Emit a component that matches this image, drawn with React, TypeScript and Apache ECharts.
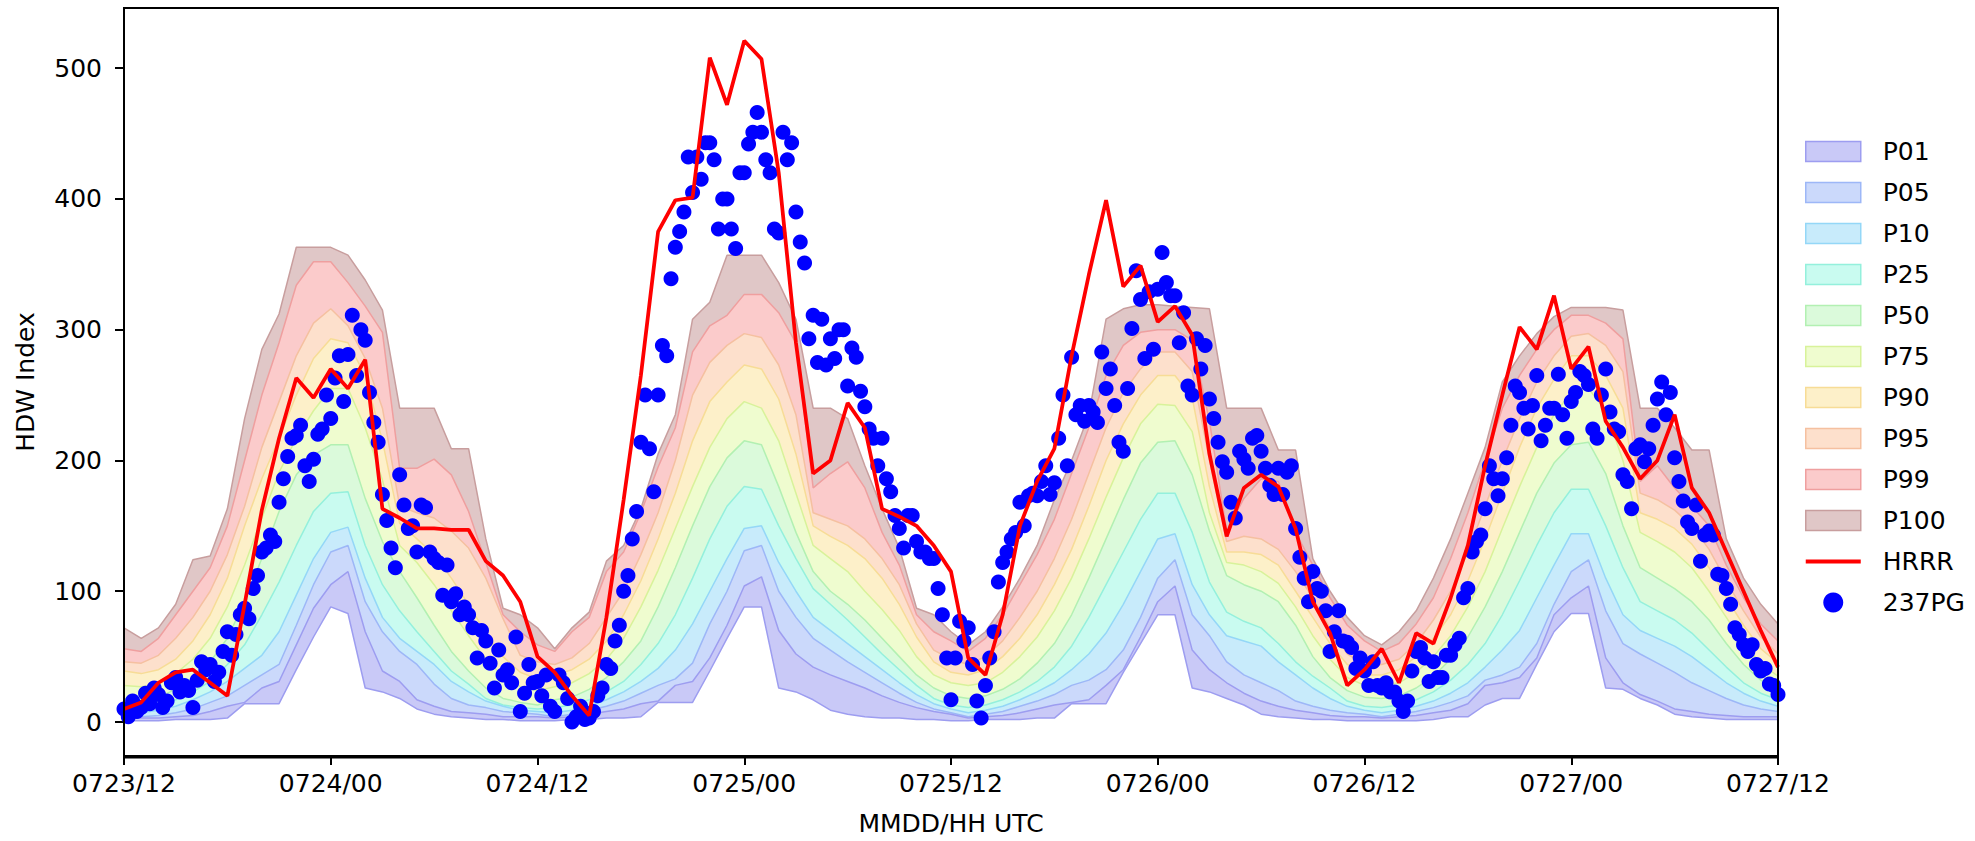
import React, { useEffect, useRef } from 'react';
import * as echarts from 'echarts';

// ---- tick labels / categories ----
const xTickLabels = ['0723/12', '0724/00', '0724/12', '0725/00', '0725/12', '0726/00', '0726/12', '0727/00', '0727/12'];
const yTickValues = [0, 100, 200, 300, 400, 500];
const percentileNames = ['P01', 'P05', 'P10', 'P25', 'P50', 'P75', 'P90', 'P95', 'P99', 'P100'];

// ---- hourly climatology boundaries (hour 0 = 0723/12 UTC) ----
const P00 = [
  1, 1, 1, 2, 2, 2, 3, 14, 14, 14, 40, 65, 88, 83, 26, 23, 18, 10, 6, 4, 3, 2, 2, 1, 1,
  1, 2, 2, 3, 3, 4, 15, 15, 15, 39, 64, 88, 88, 26, 23, 17, 9, 6, 4, 3, 3, 2, 2, 1,
  1, 2, 2, 2, 3, 3, 14, 14, 14, 38, 60, 82, 82, 26, 23, 18, 13, 6, 4, 3, 2, 2, 1, 1,
  1, 1, 1, 2, 4, 4, 13, 18, 18, 44, 69, 83, 83, 26, 25, 18, 13, 6, 4, 3, 2, 2, 2, 2,
];
const P01 = [
  3, 3, 3, 4, 5, 8, 12, 15, 26, 31, 59, 87, 105, 115, 69, 39, 31, 17, 12, 8, 7, 6, 4, 4, 4,
  3, 4, 6, 8, 10, 14, 16, 28, 31, 49, 74, 104, 111, 70, 52, 42, 36, 31, 26, 20, 15, 11, 8, 6,
  3, 4, 5, 7, 10, 13, 15, 17, 28, 40, 65, 92, 104, 55, 40, 30, 22, 16, 12, 9, 7, 5, 4, 4,
  3, 4, 5, 7, 9, 14, 28, 30, 34, 49, 82, 95, 104, 49, 30, 21, 16, 10, 8, 6, 5, 4, 4, 4,
];
const P05 = [
  4, 4, 5, 7, 10, 15, 20, 28, 36, 44, 74, 105, 130, 135, 92, 69, 54, 44, 29, 18, 13, 11, 8, 7, 6,
  4, 6, 9, 12, 16, 22, 28, 33, 45, 75, 100, 131, 135, 100, 80, 64, 55, 46, 38, 30, 22, 15, 10, 7,
  4, 6, 8, 12, 16, 21, 28, 32, 40, 55, 80, 110, 124, 82, 66, 46, 36, 30, 24, 16, 12, 9, 7, 6,
  4, 6, 8, 11, 15, 20, 32, 36, 42, 60, 90, 115, 124, 85, 60, 52, 45, 38, 30, 24, 18, 13, 10, 8,
];
const P10 = [
  7, 7, 9, 12, 17, 23, 31, 41, 51, 69, 97, 125, 145, 149, 110, 80, 64, 54, 44, 31, 23, 16, 12, 9, 8,
  7, 9, 12, 17, 23, 31, 41, 55, 75, 100, 125, 148, 150, 122, 100, 80, 70, 60, 50, 40, 30, 21, 14, 10,
  7, 9, 12, 17, 23, 30, 40, 52, 68, 90, 115, 140, 144, 105, 82, 66, 62, 58, 46, 36, 26, 18, 12, 9,
  7, 9, 12, 16, 22, 30, 42, 55, 70, 95, 120, 144, 144, 110, 82, 70, 64, 58, 50, 40, 30, 22, 16, 12,
];
const P25 = [
  12, 11, 13, 17, 23, 31, 44, 59, 82, 107, 135, 161, 175, 176, 135, 105, 85, 69, 54, 39, 29, 18, 13, 11, 10,
  11, 13, 17, 23, 31, 44, 60, 82, 110, 140, 165, 180, 178, 150, 125, 102, 90, 78, 65, 52, 40, 28, 18, 13,
  11, 13, 17, 23, 31, 42, 58, 80, 105, 130, 155, 175, 175, 145, 107, 84, 77, 72, 60, 46, 35, 26, 16, 12,
  11, 13, 17, 23, 32, 44, 60, 82, 108, 135, 160, 178, 178, 150, 118, 92, 85, 78, 68, 55, 42, 30, 22, 17,
];
const P50 = [
  18, 17, 19, 25, 34, 46, 64, 92, 125, 161, 189, 204, 212, 212, 171, 138, 115, 95, 74, 54, 39, 26, 18, 15, 13,
  17, 19, 25, 34, 46, 62, 88, 118, 150, 180, 202, 215, 212, 180, 145, 115, 100, 90, 78, 64, 50, 36, 26, 20,
  18, 20, 25, 33, 45, 60, 82, 110, 140, 170, 198, 214, 215, 189, 146, 112, 105, 100, 92, 74, 50, 34, 24, 19,
  18, 20, 26, 35, 48, 65, 88, 115, 145, 175, 198, 212, 214, 190, 150, 118, 110, 102, 92, 78, 60, 44, 32, 25,
];
const P75 = [
  28, 27, 29, 37, 48, 64, 88, 120, 156, 191, 217, 238, 255, 255, 225, 185, 135, 122, 105, 85, 66, 48, 35, 27, 24,
  27, 30, 37, 48, 64, 88, 116, 148, 180, 210, 232, 245, 240, 215, 175, 135, 125, 115, 100, 86, 70, 50, 36, 30,
  28, 30, 38, 50, 65, 85, 110, 140, 172, 202, 228, 243, 242, 222, 160, 122, 120, 115, 106, 88, 66, 48, 34, 28,
  28, 30, 38, 50, 66, 88, 115, 148, 180, 210, 235, 252, 255, 238, 200, 145, 138, 130, 118, 100, 80, 60, 45, 35,
];
const P90 = [
  39, 37, 40, 48, 62, 82, 110, 150, 186, 217, 250, 278, 293, 290, 265, 215, 152, 140, 128, 110, 90, 68, 50, 38, 33,
  36, 40, 48, 62, 82, 108, 140, 175, 215, 245, 260, 273, 270, 247, 205, 150, 142, 135, 125, 110, 90, 65, 46, 38,
  36, 40, 50, 64, 82, 105, 132, 165, 200, 228, 250, 265, 265, 248, 180, 130, 130, 128, 120, 100, 80, 60, 44, 36,
  36, 40, 50, 64, 82, 108, 140, 175, 210, 240, 262, 280, 280, 265, 240, 160, 155, 148, 136, 118, 95, 74, 56, 45,
];
const P95 = [
  46, 45, 51, 64, 80, 100, 128, 165, 210, 245, 280, 305, 316, 303, 278, 240, 165, 160, 156, 146, 133, 110, 79, 51, 46,
  44, 49, 60, 80, 100, 128, 160, 200, 250, 275, 288, 297, 294, 273, 235, 160, 155, 150, 140, 125, 105, 75, 55, 48,
  44, 50, 62, 80, 100, 125, 155, 190, 225, 252, 270, 283, 283, 268, 200, 138, 142, 140, 132, 115, 95, 72, 52, 44,
  44, 48, 60, 78, 100, 130, 165, 200, 232, 260, 280, 295, 297, 288, 268, 175, 170, 162, 150, 132, 108, 85, 65, 52,
];
const P99 = [
  56, 54, 64, 82, 100, 118, 150, 200, 250, 290, 334, 352, 352, 336, 318, 298, 194, 194, 201, 189, 161, 122, 82, 69, 59,
  54, 69, 80, 115, 130, 160, 195, 225, 283, 303, 311, 327, 327, 313, 290, 179, 190, 199, 179, 145, 120, 82, 69, 62,
  54, 64, 82, 105, 128, 155, 190, 225, 265, 288, 298, 300, 300, 292, 230, 146, 171, 186, 184, 145, 120, 95, 74, 62,
  54, 60, 75, 95, 125, 160, 200, 240, 265, 285, 300, 311, 311, 305, 293, 184, 196, 179, 165, 150, 120, 95, 75, 62,
];
const P100 = [
  72, 64, 72, 90, 124, 127, 163, 232, 285, 312, 363, 363, 363, 357, 338, 315, 240, 240, 240, 209, 209, 140, 87, 82, 72,
  56, 72, 84, 123, 135, 163, 205, 235, 308, 321, 357, 357, 357, 336, 308, 240, 240, 232, 196, 163, 133, 87, 82, 69,
  59, 69, 88, 110, 135, 170, 200, 235, 308, 316, 319, 319, 318, 317, 316, 240, 240, 240, 208, 208, 125, 100, 80, 66,
  59, 69, 85, 110, 140, 175, 210, 260, 280, 297, 310, 317, 317, 317, 315, 240, 240, 225, 208, 208, 140, 110, 90, 75,
];

// ---- HRRR forecast, hourly ----
const HRRR = [
  10, 15, 30, 38, 40, 30, 20, 90, 162, 217, 263, 248, 270, 255, 277, 163, 156, 148, 148, 147, 147, 123, 112, 92, 50,
  38, 20, 5, 80, 170, 265, 375, 399, 401, 508, 472, 521, 507, 420, 290, 190, 200, 244, 225, 163, 157, 150, 135, 115,
  49, 36, 82, 150, 184, 209, 280, 342, 399, 333, 349, 306, 318, 296, 205, 142, 179, 189, 180, 148, 92, 68, 28, 40,
  56, 30, 68, 60, 95, 135, 196, 250, 302, 285, 326, 270, 287, 230, 210, 186, 200, 235, 179, 160, 130, 100, 70, 42,
];

// ---- 237PG observations, every 15 minutes ----
const OBS_237PG = [
  10, 4, 16, 8, 11, 22, 14, 26, 21, 11, 16, 30, 34, 23, 28, 24, 11, 32, 46, 40, 44, 31, 38, 54,
  69, 51, 67, 82, 87, 79, 102, 112, 130, 133, 143, 138, 168, 186, 203, 217, 219, 227, 196, 184, 201, 220, 224, 250,
  232, 263, 280, 245, 281, 311, 265, 300, 292, 252, 229, 214, 174, 154, 133, 118, 189, 166, 148, 150, 130, 166, 164, 130,
  125, 122, 97, 120, 92, 98, 82, 88, 82, 72, 49, 70, 62, 45, 26, 55, 36, 40, 30, 65, 8, 22, 44, 30,
  31, 20, 36, 12, 8, 36, 30, 18, 0, 4, 12, 2, 3, 8, 20, 26, 44, 41, 62, 74, 100, 112, 140, 161,
  214, 250, 209, 176, 250, 288, 280, 339, 363, 375, 390, 432, 405, 432, 415, 443, 443, 430, 377, 400, 400, 377, 362, 420,
  420, 442, 451, 466, 451, 430, 420, 377, 374, 451, 430, 443, 390, 367, 351, 293, 311, 275, 308, 273, 293, 278, 300, 300,
  257, 286, 279, 253, 241, 224, 217, 196, 217, 186, 176, 158, 148, 133, 158, 158, 138, 130, 130, 125, 125, 102, 82, 49,
  17, 49, 77, 62, 72, 44, 16, 3, 28, 49, 69, 107, 122, 130, 140, 145, 168, 150, 173, 175, 173, 184, 196, 174,
  183, 217, 250, 196, 279, 235, 242, 230, 242, 237, 229, 283, 255, 270, 242, 214, 207, 255, 301, 345, 323, 278, 329, 285,
  331, 359, 336, 326, 326, 290, 313, 257, 250, 293, 270, 288, 247, 232, 214, 199, 191, 168, 156, 207, 201, 194, 217, 219,
  207, 194, 181, 174, 194, 174, 191, 196, 148, 126, 110, 92, 115, 102, 100, 85, 54, 69, 85, 62, 61, 57, 41, 49,
  39, 28, 46, 28, 26, 30, 23, 23, 16, 8, 16, 39, 54, 57, 49, 31, 46, 34, 34, 51, 51, 59, 64, 95,
  102, 130, 138, 143, 163, 196, 186, 173, 186, 202, 227, 257, 252, 240, 224, 242, 265, 215, 227, 240, 240, 266, 235, 217,
  245, 252, 268, 265, 258, 224, 217, 250, 270, 237, 224, 222, 189, 184, 163, 209, 212, 199, 209, 227, 247, 260, 235, 252,
  202, 184, 169, 153, 148, 166, 123, 143, 146, 143, 113, 112, 102, 90, 72, 67, 59, 54, 59, 44, 39, 41, 29, 28,
  21,
];

// ---- styles ----
const bandFills = ['#c9c9f7', '#cbd9fb', '#c8ebfb', '#c9fbf0', '#dbfadb', '#effccf', '#fdf0c9', '#fde0cc', '#fbcbcb', '#e0c7c7'];
const bandEdges = ['#9d9df0', '#9db7f7', '#94d7f7', '#94f0dc', '#b2f0b2', '#d8f29a', '#f7dc96', '#f5c0a0', '#ef9f9f', '#c89e9e'];
const FONT = 'DejaVu Sans';

export default function App() {
  const ref = useRef<HTMLDivElement>(null);

  useEffect(() => {
    const chart = echarts.init(ref.current as HTMLDivElement, null, { renderer: 'svg' });
    const bounds = [P01, P05, P10, P25, P50, P75, P90, P95, P99, P100];
    const pairs = (arr: number[]) => arr.map((v, i) => [i, v]);

    const series: any[] = [];
    for (let k = bounds.length - 1; k >= 0; k--) {
      series.push({
        name: percentileNames[k],
        type: 'line',
        data: pairs(bounds[k]),
        symbol: 'none',
        showSymbol: false,
        silent: true,
        lineStyle: { color: bandEdges[k], width: 1.5 },
        itemStyle: { color: bandFills[k] },
        areaStyle: { color: bandFills[k], opacity: 1 },
        emphasis: { disabled: true },
        z: 2,
      });
    }
    series.push({
      name: 'P00',
      type: 'line',
      data: pairs(P00),
      symbol: 'none',
      showSymbol: false,
      silent: true,
      lineStyle: { color: bandEdges[0], width: 1.5 },
      areaStyle: { color: '#ffffff', opacity: 1 },
      emphasis: { disabled: true },
      z: 2,
    });
    series.push({
      name: '237PG',
      type: 'scatter',
      data: OBS_237PG.map((v, i) => [i / 4, v]),
      symbol: 'circle',
      symbolSize: 15,
      itemStyle: { color: '#0000ff', opacity: 1 },
      emphasis: { disabled: true },
      silent: true,
      z: 3,
    });
    series.push({
      name: 'HRRR',
      type: 'line',
      data: pairs(HRRR),
      symbol: 'none',
      showSymbol: false,
      silent: true,
      lineStyle: { color: '#ff0000', width: 3.75 },
      itemStyle: { color: '#ff0000' },
      emphasis: { disabled: true },
      z: 4,
    });

    const legendData: any[] = percentileNames.map((n, k) => ({
      name: n,
      icon: 'rect',
      itemStyle: { color: bandFills[k], borderColor: bandEdges[k], borderWidth: 1.5 },
    }));
    legendData.push({
      name: 'HRRR',
      icon: 'path://M0,0H55V0.05H0Z M0,8H55V12H0Z M0,19.95H55V20H0Z',
      itemStyle: { color: '#ff0000', borderWidth: 0 },
    });
    legendData.push({ name: '237PG', icon: 'circle', itemStyle: { color: '#0000ff', borderWidth: 0 } });

    const option: any = {
      animation: false,
      backgroundColor: '#ffffff',
      textStyle: { fontFamily: FONT },
      grid: { left: 124, right: 197, top: 8, bottom: 83.5, show: false },
      legend: {
        orient: 'vertical',
        left: 1805,
        top: 139,
        padding: 0,
        itemWidth: 55,
        itemHeight: 20,
        itemGap: 16,
        selectedMode: false,
        textStyle: { fontSize: 25, fontFamily: FONT, color: '#000', lineHeight: 25, padding: [0, 0, 0, 17] },
        data: legendData,
      },
      xAxis: {
        type: 'value',
        min: 0,
        max: 96,
        interval: 12,
        name: 'MMDD/HH UTC',
        nameLocation: 'middle',
        nameGap: 55,
        nameTextStyle: { fontSize: 25, fontFamily: FONT, color: '#000' },
        axisLine: { show: true, onZero: false, lineStyle: { color: '#000', width: 2 } },
        axisTick: { show: true, length: 9, lineStyle: { color: '#000', width: 2 } },
        axisLabel: {
          fontSize: 25,
          fontFamily: FONT,
          color: '#000',
          margin: 15,
          formatter: (v: number) => xTickLabels[Math.round(v / 12)] ?? '',
        },
        splitLine: { show: false },
      },
      yAxis: {
        type: 'value',
        min: -26,
        max: 546,
        name: 'HDW Index',
        nameLocation: 'middle',
        nameGap: 86,
        nameTextStyle: { fontSize: 25, fontFamily: FONT, color: '#000' },
        axisLine: { show: true, onZero: false, lineStyle: { color: '#000', width: 2 } },
        axisTick: { show: true, length: 9, lineStyle: { color: '#000', width: 2 }, customValues: yTickValues },
        axisLabel: {
          fontSize: 25,
          fontFamily: FONT,
          color: '#000',
          margin: 22,
          customValues: yTickValues,
          formatter: (v: number) => (yTickValues.indexOf(v) >= 0 ? String(v) : ''),
        },
        splitLine: { show: false },
      },
      graphic: [
        {
          type: 'rect',
          silent: true,
          z: 100,
          shape: { x: 124, y: 8, width: 1654, height: 749.5 },
          style: { fill: 'none', stroke: '#000', lineWidth: 2 },
        },
      ],
      series,
    };

    chart.setOption(option);
    return () => chart.dispose();
  }, []);

  return (
    <div
      ref={ref}
      style={{ position: 'fixed', left: 0, top: 0, width: '1975px', height: '841px', background: '#fff' }}
    />
  );
}
